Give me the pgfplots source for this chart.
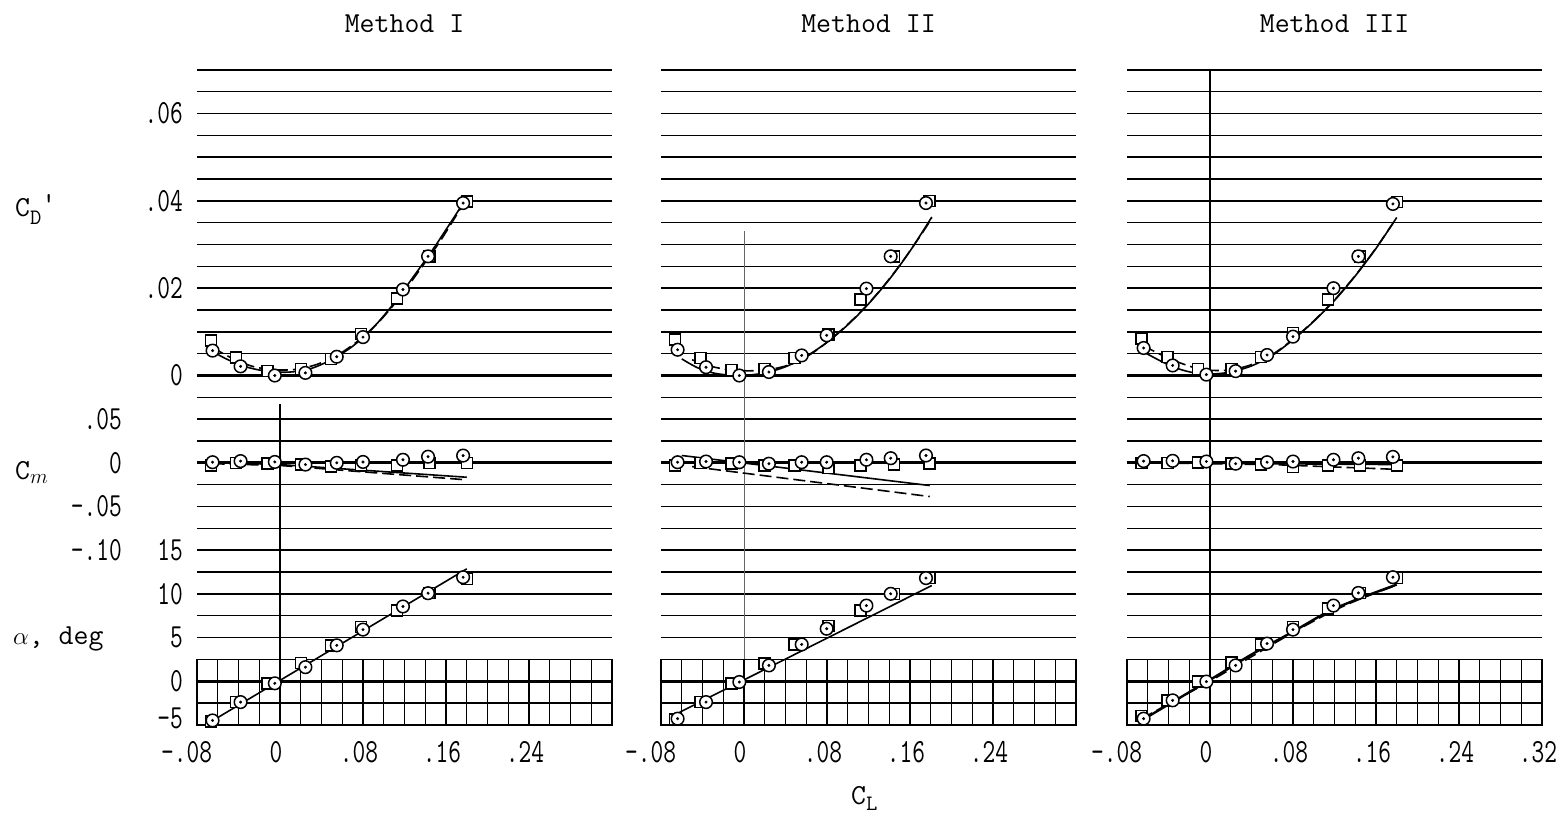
\documentclass[border=0pt]{standalone}
\usepackage{pgfplots}
\pgfplotsset{compat=1.18}
\usepackage{pgfplotstable}
\usepackage{graphicx}

\newcommand{\tl}[1]{\scalebox{0.95}[1.3]{\fontsize{26}{26}\selectfont\ttfamily #1}}
\newcommand{\lab}{\fontsize{29}{29}\selectfont\ttfamily}

% columns: C_L, C_D', C_m, alpha
\pgfplotstableread{
cl cd cm al
-0.065 0.0057 0.0007 -4.5
-0.038 0.0021 0.0020 -2.4
-0.005 0.0000 0.0010 -0.25
0.0245 0.0006 -0.0020 1.6
0.0547 0.0043 0.0000 4.1
0.080 0.0088 0.0010 5.9
0.1185 0.0197 0.0035 8.55
0.1427 0.0273 0.0070 10.07
0.1765 0.0395 0.0083 11.9
}\Icirc
\pgfplotstableread{
cl cd cm al
-0.0667 0.0080 -0.0030 -4.6
-0.0425 0.0041 0.0000 -2.4
-0.012 0.0010 -0.0010 -0.25
0.020 0.0015 -0.0020 2.05
0.049 0.0038 -0.0040 4.1
0.078 0.0095 -0.0030 6.2
0.113 0.0176 -0.0030 8.1
0.144 0.0273 0.0000 10.07
0.180 0.0399 0.0000 11.7
}\Isq
\pgfplotstableread{
cl cd cm al
-0.064 0.0059 0.0007 -4.3
-0.0366 0.0019 0.0015 -2.4
-0.0045 0.0000 0.0007 -0.1
0.024 0.0008 -0.0010 1.8
0.0556 0.0046 0.0007 4.2
0.0797 0.0092 0.0007 6.0
0.118 0.0199 0.0035 8.65
0.1414 0.0273 0.0053 10.0
0.1754 0.0395 0.0084 11.8
}\IIcirc
\pgfplotstableread{
cl cd cm al
-0.0665 0.0082 -0.0030 -4.4
-0.042 0.0040 0.0000 -2.4
-0.012 0.0013 -0.0010 -0.25
0.0196 0.0015 -0.0030 2.0
0.0485 0.0040 -0.0030 4.2
0.0814 0.0094 -0.0057 6.3
0.1125 0.0174 -0.0030 8.1
0.1445 0.0273 -0.0020 10.0
0.179 0.0400 -0.0005 11.8
}\IIsq
\pgfplotstableread{
cl cd cm al
-0.064 0.0063 0.0020 -4.3
-0.036 0.0023 0.0023 -2.2
-0.0035 0.0002 0.0015 -0.05
0.0247 0.0010 -0.0010 1.8
0.055 0.0047 0.0007 4.3
0.080 0.0089 0.0015 5.9
0.119 0.0200 0.0035 8.65
0.143 0.0273 0.0053 10.1
0.1763 0.0393 0.0068 11.9
}\IIIcirc
\pgfplotstableread{
cl cd cm al
-0.066 0.0085 0.0000 -4.0
-0.041 0.0042 0.0000 -2.2
-0.0115 0.0015 0.0002 -0.05
0.0206 0.0015 -0.0010 2.16
0.049 0.0042 -0.0020 4.2
0.080 0.0097 -0.0045 6.2
0.1135 0.0174 -0.0030 8.3
0.1445 0.0273 -0.0030 10.1
0.180 0.0397 -0.0030 11.8
}\IIIsq

\pgfplotsset{
 panel/.style={scale only axis, width=415pt, height=654.9pt, xmin=-0.08, xmax=0.32,
   anchor=south west, clip=false, axis line style={draw=none},
   scaled ticks=false,
   major tick length=0pt, minor tick length=0pt, xtick=\empty, ytick=\empty,
   tick style={draw=none}},
 cdax/.style={panel, ymin=-0.08, ymax=0.07},
 cmax/.style={panel, ymin=-0.30, ymax=0.45},
 alax/.style={panel, ymin=-5, ymax=70},
 gridax/.style={panel, ymin=-16, ymax=14, ytick={-16,-15,...,14}, yticklabels={},
   ymajorgrids, grid style={black, line width=1.5pt},
   extra y ticks={-14,-4,0}, extra y tick labels={},
   extra y tick style={grid style={black, line width=2.8pt}}},
 boxax/.style={scale only axis, width=415pt, height=65.5pt, anchor=south west,
   xmin=-0.08, xmax=0.32, ymin=0, ymax=1, ytick=\empty, scaled ticks=false,
   xtick={-0.08,0,0.08,0.16,0.24,0.32}, minor x tick num=3,
   xmajorgrids, xminorgrids, major grid style={black,line width=1.3pt},
   minor grid style={black,line width=1.3pt}, axis line style={black,line width=1.5pt},
   major tick length=0pt, minor tick length=0pt, tick style={draw=none},
   xticklabel style={anchor=north, inner sep=0pt, yshift=-16pt, xshift=-4pt}},
 fair/.style={black, line width=1.6pt},
 fdash/.style={black, line width=1.6pt, dash pattern=on 12pt off 5pt},
 circ/.style={only marks, mark=*, mark size=6.3pt, mark options={fill=white, draw=black, line width=1.5pt}},
 dotm/.style={only marks, mark=*, mark size=1.3pt, mark options={fill=black, draw=black}},
 sq/.style={only marks, mark=square*, mark size=5.5pt, mark options={fill=white, draw=black, line width=1.5pt}},
 ylabs/.style={yticklabel style={anchor=east, inner sep=0pt, xshift=#1}},
}

\begin{document}
\begin{tikzpicture}
\useasboundingbox (0,0) rectangle (1564pt,813pt);

% ================= Method I =================
\begin{axis}[gridax, at={(197pt,88.2pt)}]
 \addplot[black, line width=1.2pt] coordinates {(0,-1.3) (0,-16)};
\end{axis}
\begin{axis}[boxax, at={(197pt,88.2pt)},
  xticklabels={\tl{\llap{-}.08},\tl{0},\tl{.08},\tl{.16},\tl{.24},{}}]
\end{axis}
\begin{axis}[cdax, at={(197pt,88.2pt)}, ytick={0,0.02,0.04,0.06},
  yticklabels={\tl{0},\tl{.02},\tl{.04},\tl{.06}}, ylabs=-14pt]
 \addplot[fair, smooth] coordinates {(-0.065,0.0055) (-0.05,0.0036) (-0.03,0.0018) (-0.01,0.0009) (0.01,0.0008) (0.03,0.0016) (0.05,0.0037) (0.07,0.0067) (0.09,0.0110) (0.11,0.0166) (0.13,0.0231) (0.15,0.0298) (0.178,0.0400)};
 \addplot[fdash, smooth] coordinates {(-0.065,0.0064) (-0.045,0.0038) (-0.025,0.0020) (-0.005,0.0013) (0.015,0.0014) (0.035,0.0025) (0.055,0.0046) (0.075,0.0079) (0.095,0.0122) (0.115,0.0178) (0.135,0.0243) (0.155,0.0310) (0.178,0.0398)};
 \addplot[sq] table[x=cl,y=cd] {\Isq};
 \addplot[circ] table[x=cl,y=cd] {\Icirc};
 \addplot[dotm] table[x=cl,y=cd] {\Icirc};
\end{axis}
\begin{axis}[cmax, at={(197pt,88.2pt)}, ytick={-0.10,-0.05,0,0.05},
  yticklabels={\tl{-.10},\tl{-.05},\tl{0},\tl{.05}}, ylabs=-75pt]
 \addplot[fair] coordinates {(-0.065,0.0005) (0,-0.002) (0.18,-0.0165)};
 \addplot[fdash] coordinates {(-0.065,-0.001) (0,-0.003) (0.18,-0.0195)};
 \addplot[sq] table[x=cl,y=cm] {\Isq};
 \addplot[circ] table[x=cl,y=cm] {\Icirc};
 \addplot[dotm] table[x=cl,y=cm] {\Icirc};
\end{axis}
\begin{axis}[alax, at={(197pt,88.2pt)}, ytick={-5,0,5,10,15},
  yticklabels={\tl{\raisebox{-3pt}[0pt][0pt]{-5}},\tl{0},\tl{5},\tl{10},\tl{15}}, ylabs=-14pt]
 \addplot[fair] coordinates {(-0.066,-4.6) (0.18,12.86)};
 \addplot[sq] table[x=cl,y=al] {\Isq};
 \addplot[circ] table[x=cl,y=al] {\Icirc};
 \addplot[dotm] table[x=cl,y=al] {\Icirc};
\end{axis}

% ================= Method II =================
\begin{axis}[gridax, at={(661pt,88.2pt)}]
 \addplot[black!60, line width=1pt] coordinates {(0,6.6) (0,-16)};
\end{axis}
\begin{axis}[boxax, at={(661pt,88.2pt)},
  xticklabels={\tl{\llap{-}.08},\tl{0},\tl{.08},\tl{.16},\tl{.24},{}}]
\end{axis}
\begin{axis}[cdax, at={(661pt,88.2pt)}]
 \addplot[fair, smooth] coordinates {(-0.060,0.0038) (-0.045,0.0018) (-0.03,0.0006) (-0.015,0.0001) (0,0.0) (0.02,0.0006) (0.04,0.0020) (0.06,0.0044) (0.08,0.0076) (0.10,0.0116) (0.12,0.0164) (0.14,0.0220) (0.16,0.0285) (0.181,0.0363)};
 \addplot[fdash, smooth] coordinates {(-0.05,0.0036) (-0.03,0.0020) (-0.01,0.0012) (0.01,0.0011) (0.03,0.0016) (0.05,0.0030) (0.07,0.0058) (0.09,0.0096) (0.11,0.0140) (0.13,0.0192) (0.15,0.0252) (0.17,0.0320) (0.181,0.0360)};
 \addplot[sq] table[x=cl,y=cd] {\IIsq};
 \addplot[circ] table[x=cl,y=cd] {\IIcirc};
 \addplot[dotm] table[x=cl,y=cd] {\IIcirc};
\end{axis}
\begin{axis}[cmax, at={(661pt,88.2pt)}]
 \addplot[fair] coordinates {(-0.060,0.0084) (0.179,-0.026)};
 \addplot[fdash] coordinates {(-0.050,-0.0043) (0.179,-0.0386)};
 \addplot[sq] table[x=cl,y=cm] {\IIsq};
 \addplot[circ] table[x=cl,y=cm] {\IIcirc};
 \addplot[dotm] table[x=cl,y=cm] {\IIcirc};
\end{axis}
\begin{axis}[alax, at={(661pt,88.2pt)}]
 \addplot[fair] coordinates {(-0.062,-3.56) (0.181,10.95)};
 \addplot[sq] table[x=cl,y=al] {\IIsq};
 \addplot[circ] table[x=cl,y=al] {\IIcirc};
 \addplot[dotm] table[x=cl,y=al] {\IIcirc};
\end{axis}

% ================= Method III =================
\begin{axis}[gridax, at={(1127pt,88.2pt)}]
 \addplot[black, line width=2pt] coordinates {(0,14) (0,-16)};
\end{axis}
\begin{axis}[boxax, at={(1127pt,88.2pt)},
  xticklabels={\tl{\llap{-}.08},\tl{0},\tl{.08},\tl{.16},\tl{.24},\tl{.32}}]
\end{axis}
\begin{axis}[cdax, at={(1127pt,88.2pt)}]
 \addplot[fair, smooth] coordinates {(-0.064,0.0054) (-0.045,0.0030) (-0.03,0.0015) (-0.015,0.0006) (0,0.0003) (0.02,0.0008) (0.04,0.0022) (0.06,0.0046) (0.08,0.0082) (0.10,0.0124) (0.12,0.0172) (0.14,0.0228) (0.16,0.0291) (0.180,0.0362)};
 \addplot[fdash, smooth] coordinates {(-0.064,0.0068) (-0.045,0.0045) (-0.03,0.0030) (-0.015,0.0018) (0,0.0012) (0.02,0.0013) (0.04,0.0025) (0.06,0.0048) (0.08,0.0083) (0.10,0.0125) (0.12,0.0173) (0.14,0.0229) (0.16,0.0292) (0.180,0.0362)};
 \addplot[sq] table[x=cl,y=cd] {\IIIsq};
 \addplot[circ] table[x=cl,y=cd] {\IIIcirc};
 \addplot[dotm] table[x=cl,y=cd] {\IIIcirc};
\end{axis}
\begin{axis}[cmax, at={(1127pt,88.2pt)}]
 \addplot[fair] coordinates {(-0.065,0.0) (0.18,-0.002)};
 \addplot[fdash] coordinates {(-0.065,0.0) (0.06,-0.002) (0.18,-0.0075)};
 \addplot[sq] table[x=cl,y=cm] {\IIIsq};
 \addplot[circ] table[x=cl,y=cm] {\IIIcirc};
 \addplot[dotm] table[x=cl,y=cm] {\IIIcirc};
\end{axis}
\begin{axis}[alax, at={(1127pt,88.2pt)}]
 \addplot[black, line width=2.4pt, smooth] coordinates {(-0.066,-4.5) (0,0.15) (0.04,3.05) (0.079,5.6) (0.113,7.9) (0.1425,9.4) (0.18,11.06)};
 \addplot[fdash, smooth] coordinates {(-0.066,-4.3) (0,0.0) (0.04,2.8) (0.079,5.5) (0.113,7.7) (0.1425,9.3) (0.18,11.0)};
 \addplot[sq] table[x=cl,y=al] {\IIIsq};
 \addplot[circ] table[x=cl,y=al] {\IIIcirc};
 \addplot[dotm] table[x=cl,y=al] {\IIIcirc};
\end{axis}

% ================= Titles and labels =================
\node[anchor=base, inner sep=0pt] at (404.5pt,780pt) {\lab Method I};
\node[anchor=base, inner sep=0pt] at (868.5pt,780pt) {\lab Method II};
\node[anchor=base, inner sep=0pt] at (1334.5pt,780pt) {\lab Method III};

\node[anchor=base west, inner sep=0pt] at (15pt,596pt)
  {\lab C\raisebox{-8pt}{\fontsize{22}{22}\selectfont D}\raisebox{4pt}{\textquotesingle}};
\node[anchor=base west, inner sep=0pt] at (15pt,333pt)
  {\lab C\raisebox{-4pt}{\fontsize{22}{22}\selectfont$m$}};
\node[anchor=base west, inner sep=0pt] at (13pt,168pt)
  {\lab $\alpha$, deg};
\node[anchor=base west, inner sep=0pt] at (851pt,8pt)
  {\lab C\raisebox{-6pt}{\fontsize{22}{22}\selectfont L}};
\end{tikzpicture}
\end{document}
